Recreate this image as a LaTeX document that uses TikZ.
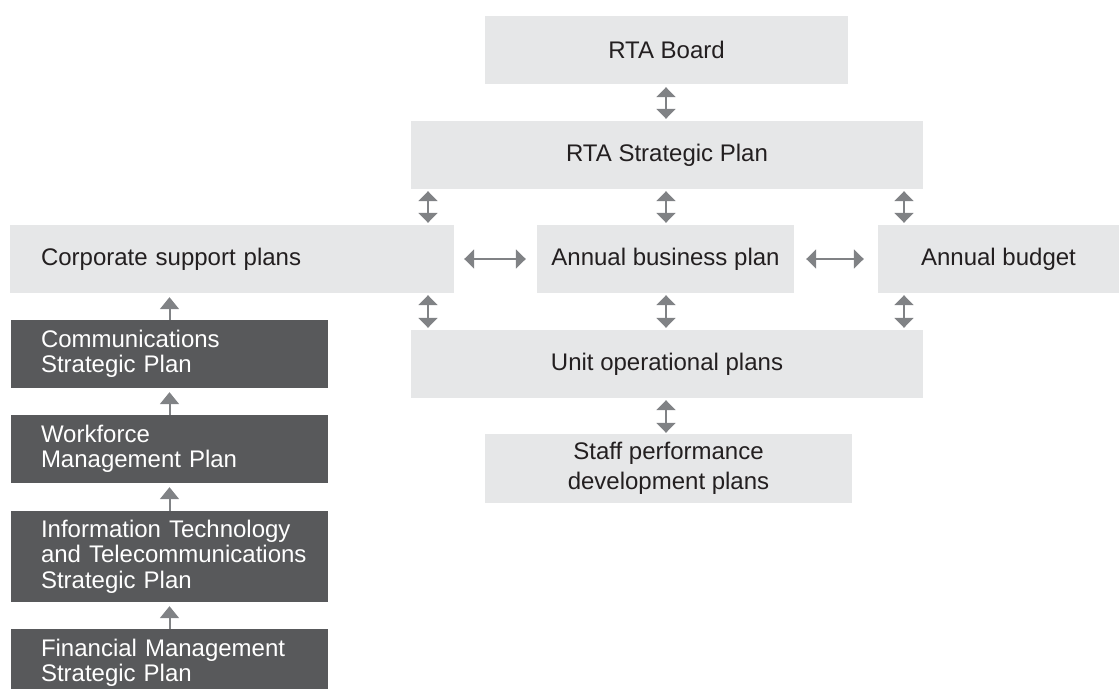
\documentclass[tikz,border=0pt]{standalone}
\usepackage{fontspec}
\setmainfont{Liberation Sans}
\usetikzlibrary{arrows.meta}
\definecolor{boxlight}{HTML}{E6E7E8}
\definecolor{boxdark}{HTML}{58595B}
\definecolor{ink}{HTML}{231F20}
\definecolor{arrowgray}{HTML}{808285}
\begin{document}
\begin{tikzpicture}[x=1pt,y=-1pt,
  lightbox/.style={fill=boxlight, text=ink, inner sep=0pt, minimum height=68pt,
    align=center, font={\fontsize{24}{30}\selectfont}},
  darkbox/.style={fill=boxdark, text=white, inner xsep=30pt, inner ysep=0pt,
    text width=257pt, align=left, minimum height=68pt,
    font={\fontsize{24}{25.5}\selectfont}},
  dbl/.style={draw=arrowgray, line width=2pt, {Triangle[width=19pt,length=10pt]}-{Triangle[width=19pt,length=10pt]}},
  upward/.style={draw=arrowgray, line width=2pt, -{Triangle[width=19pt,length=12pt]}}
]
\useasboundingbox (0,0) rectangle (1119,688);

% central chain
\node[lightbox, minimum width=363pt] (board) at (666.5,50) {RTA Board};
\node[lightbox, minimum width=512pt] (strat) at (667,155) {RTA Strategic Plan};
\node[lightbox, minimum width=444pt, text width=382pt, inner xsep=31pt, align=left]
  (corp) at (232,259) {Corporate support plans};
\node[lightbox, minimum width=257pt] (bplan) at (665.5,259) {Annual business plan};
\node[lightbox, minimum width=241pt] (budget) at (998.5,259) {Annual budget};
\node[lightbox, minimum width=512pt] (unit) at (667,364) {Unit operational plans};
\node[lightbox, minimum width=367pt, minimum height=69pt] (staff) at (668.5,468.5)
  {Staff performance\\development plans};

% supporting strategic plans
\node[darkbox] (comm) at (169.5,354) {Communications\\Strategic Plan};
\node[darkbox] (work) at (169.5,449) {Workforce\\Management Plan};
\node[darkbox, minimum height=91pt] (itp) at (169.5,556.5)
  {Information Technology\\\mbox{and Telecommunications}\\Strategic Plan};
\node[darkbox] (fin) at (169.5,663) {Financial Management\\Strategic Plan};

% column positions of the vertical links
\coordinate (cl) at (428,0);
\coordinate (cm) at (666,0);
\coordinate (cr) at (904,0);

\draw[dbl, shorten <=3pt, shorten >=2pt] (board.south -| cm) -- (strat.north -| cm);

\draw[dbl, shorten <=2pt, shorten >=2pt] (strat.south -| cl) -- (corp.north -| cl);
\draw[dbl, shorten <=2pt, shorten >=2pt] (strat.south -| cm) -- (bplan.north -| cm);
\draw[dbl, shorten <=2pt, shorten >=2pt] (strat.south -| cr) -- (budget.north -| cr);

\draw[dbl, shorten <=10pt, shorten >=11pt] (corp.east) -- (bplan.west);
\draw[dbl, shorten <=12pt, shorten >=14pt] (bplan.east) -- (budget.west);

\draw[dbl, shorten <=2pt, shorten >=2pt] (corp.south -| cl) -- (unit.north -| cl);
\draw[dbl, shorten <=2pt, shorten >=2pt] (bplan.south -| cm) -- (unit.north -| cm);
\draw[dbl, shorten <=2pt, shorten >=2pt] (budget.south -| cr) -- (unit.north -| cr);

\draw[dbl, shorten <=2pt, shorten >=1pt] (unit.south -| cm) -- (staff.north -| cm);

% upward feeds into corporate support plans
\draw[upward, shorten >=4pt] (comm.north) -- (comm.north |- corp.south);
\draw[upward, shorten >=4pt] (work.north) -- (comm.south);
\draw[upward, shorten >=4pt] (itp.north) -- (work.south);
\draw[upward, shorten >=4pt] (fin.north) -- (itp.south);
\end{tikzpicture}
\end{document}
